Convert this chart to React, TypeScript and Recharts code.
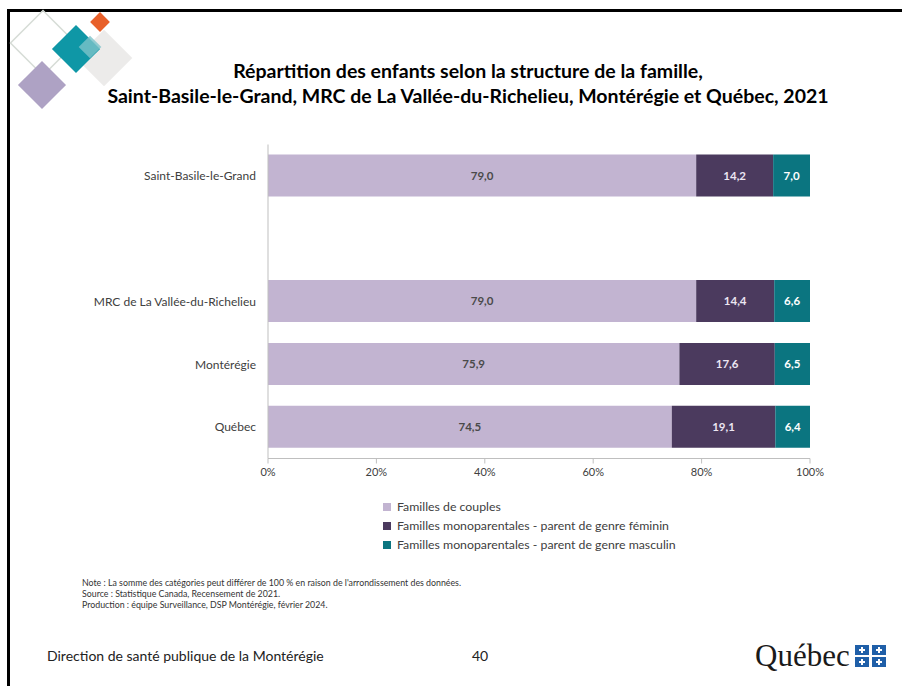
import { BarChart, Bar, XAxis, YAxis, LabelList, Legend } from 'recharts';

const categories = ['Saint-Basile-le-Grand', '', 'MRC de La Vallée-du-Richelieu', 'Montérégie', 'Québec'];
const couples = [79.0, null, 79.0, 75.9, 74.5];
const monoFeminin = [14.2, null, 14.4, 17.6, 19.1];
const monoMasculin = [7.0, null, 6.6, 6.5, 6.4];
const xTicks = [0, 20, 40, 60, 80, 100];

const seriesNames = [
  'Familles de couples',
  'Familles monoparentales - parent de genre féminin',
  'Familles monoparentales - parent de genre masculin',
];

const data = categories.map((name, i) => ({
  name,
  couples: couples[i],
  feminin: monoFeminin[i],
  masculin: monoMasculin[i],
}));

const font = 'Lato, "Open Sans", sans-serif';

const fmt = (v: any) => (v == null ? '' : Number(v).toFixed(1).replace('.', ','));

function LegendBox({ payload }: any) {
  return (
    <div style={{ fontFamily: font, fontSize: 12.3, color: '#404040' }}>
      {(payload || []).map((p: any) => (
        <div key={p.value} style={{ display: 'flex', alignItems: 'center', height: 19 }}>
          <span style={{ width: 8, height: 8, background: p.color, display: 'inline-block', marginRight: 6 }} />
          {p.value}
        </div>
      ))}
    </div>
  );
}

function Decoration() {
  return (
    <svg width={140} height={120} style={{ position: 'absolute', left: 0, top: 0 }}>
      <rect x={20} y={20} width={46} height={46} fill="none" stroke="#d6dcd6" strokeWidth={1.5} transform="rotate(45 43 43)" />
      <rect x={84} y={38} width={40} height={40} fill="#ecebea" transform="rotate(45 104 58)" />
      <rect x={25} y={68} width={34} height={34} fill="#aea2c4" transform="rotate(45 42 85)" />
      <rect x={59} y={32} width={34} height={34} fill="#0f97a6" transform="rotate(45 76 49)" />
      <rect x={93} y={15} width={14} height={14} fill="#e8602a" transform="rotate(45 100 22)" />
      <rect x={82} y={39} width={16} height={16} fill="#7cc3c9" opacity={0.8} transform="rotate(45 90 47)" />
    </svg>
  );
}

function QuebecLogo() {
  const sq = (x: number, y: number) => (
    <g key={`${x}-${y}`}>
      <rect x={x} y={y} width={14} height={10} fill="#1f5fa8" />
      <rect x={x + 6} y={y + 2} width={2} height={6} fill="#fff" />
      <rect x={x + 4} y={y + 4} width={6} height={2} fill="#fff" />
    </g>
  );
  return (
    <div style={{ position: 'absolute', left: 755, top: 638, width: 145, height: 36, display: 'flex', alignItems: 'center' }}>
      <span style={{ fontFamily: '"Liberation Serif", serif', fontSize: 31, color: '#1a1a1a', lineHeight: '36px' }}>Québec</span>
      <svg width={34} height={24} style={{ marginLeft: 4 }}>
        {sq(1, 1)}
        {sq(18, 1)}
        {sq(1, 13)}
        {sq(18, 13)}
      </svg>
    </div>
  );
}

export default function App() {
  return (
    <div style={{ position: 'absolute', left: 0, top: 0, width: 902, height: 686, background: '#fff', overflow: 'hidden' }}>
      <div style={{ position: 'absolute', left: 7, top: 9, width: 902, height: 686, borderTop: '3px solid #000', borderLeft: '3px solid #000' }} />
      <Decoration />
      <div style={{ position: 'absolute', left: 0, top: 58, width: 936, textAlign: 'center', fontFamily: font, fontWeight: 700, fontSize: 19.5, lineHeight: '25px', color: '#000' }}>
        Répartition des enfants selon la structure de la famille,
        <br />
        Saint-Basile-le-Grand, MRC de La Vallée-du-Richelieu, Montérégie et Québec, 2021
      </div>
      <div style={{ position: 'absolute', left: 0, top: 0 }}>
        <BarChart
          width={902}
          height={686}
          data={data}
          layout="vertical"
          barSize={42}
          margin={{ top: 144.5, right: 92, left: 0, bottom: 197.5 }}
        >
          <XAxis
            type="number"
            domain={[0, 100]}
            ticks={xTicks}
            allowDataOverflow
            tickFormatter={(v) => `${v}%`}
            tick={{ fontSize: 11, fill: '#404040', fontFamily: font }}
            axisLine={{ stroke: '#bfbfbf' }}
            tickLine={{ stroke: '#bfbfbf' }}
            tickSize={5}
            tickMargin={5}
            height={30}
          />
          <YAxis
            type="category"
            dataKey="name"
            width={268}
            tickLine={false}
            axisLine={{ stroke: '#bfbfbf' }}
            tickMargin={6}
            tick={{ fontSize: 12, fill: '#404040', fontFamily: font }}
          />
          <Legend
            layout="vertical"
            align="center"
            verticalAlign="middle"
            wrapperStyle={{ left: 383, top: 497, width: 360 }}
            content={<LegendBox />}
          />
          <Bar dataKey="couples" name={seriesNames[0]} stackId="a" fill="#c2b4d1" isAnimationActive={false}>
            <LabelList dataKey="couples" position="center" formatter={fmt} style={{ fontSize: 11.5, fontWeight: 700, fill: '#4a4a4a', fontFamily: font }} />
          </Bar>
          <Bar dataKey="feminin" name={seriesNames[1]} stackId="a" fill="#4b3a5e" isAnimationActive={false}>
            <LabelList dataKey="feminin" position="center" formatter={fmt} style={{ fontSize: 11.5, fontWeight: 700, fill: '#ece6f2', fontFamily: font }} />
          </Bar>
          <Bar dataKey="masculin" name={seriesNames[2]} stackId="a" fill="#0b7580" isAnimationActive={false}>
            <LabelList dataKey="masculin" position="center" formatter={fmt} style={{ fontSize: 11.5, fontWeight: 700, fill: '#ffffff', fontFamily: font }} />
          </Bar>
        </BarChart>
      </div>
      <div style={{ position: 'absolute', left: 82, top: 577, fontFamily: font, fontSize: 8.8, lineHeight: '11px', color: '#333' }}>
        Note : La somme des catégories peut différer de 100 % en raison de l'arrondissement des données.
        <br />
        Source : Statistique Canada, Recensement de 2021.
        <br />
        Production : équipe Surveillance, DSP Montérégie, février 2024.
      </div>
      <div style={{ position: 'absolute', left: 47, top: 647, fontFamily: font, fontSize: 14, color: '#222' }}>
        Direction de santé publique de la Montérégie
      </div>
      <div style={{ position: 'absolute', left: 472, top: 647, fontFamily: font, fontSize: 14, color: '#222' }}>40</div>
      <QuebecLogo />
    </div>
  );
}
